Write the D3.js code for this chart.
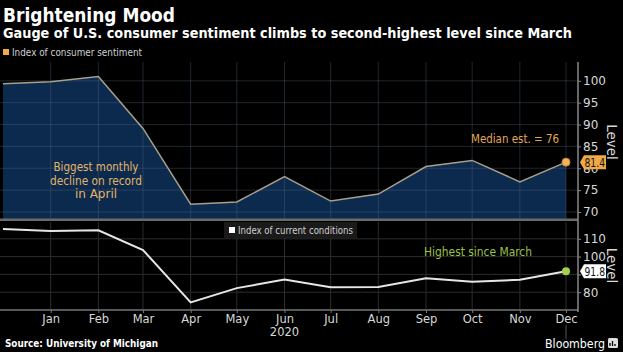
<!DOCTYPE html>
<html><head><meta charset="utf-8">
<script src="https://cdn.jsdelivr.net/npm/d3@7"></script>
<style>
html,body{margin:0;padding:0;background:#000;}
svg{display:block;}
text{font-family:"DejaVu Sans",sans-serif;}
</style></head>
<body>
<svg id="c" width="623" height="352"></svg>
<script>
const months = ["2019-12","2020-01","2020-02","2020-03","2020-04","2020-05","2020-06","2020-07","2020-08","2020-09","2020-10","2020-11","2020-12"];
const sentiment = [99.3,99.8,101.0,89.1,71.8,72.3,78.1,72.5,74.1,80.4,81.8,76.9,81.4];
const conditions = [115.5,114.4,114.8,103.7,74.3,82.3,87.1,82.8,82.9,87.8,85.9,87.0,91.8];
const topTicks = [70,75,80,85,90,95,100];
const botTicks = [80,90,100,110];
const monthLabels = ["Jan","Feb","Mar","Apr","May","Jun","Jul","Aug","Sep","Oct","Nov","Dec"];

const parse = d3.timeParse("%Y-%m");
const dates = months.map(parse);
const svg = d3.select("#c");
svg.append("rect").attr("width",623).attr("height",352).attr("fill","#000");

const x = d3.scaleTime().domain([dates[0], dates[12]]).range([3,566]);
const axisX = 578;
const yT = d3.scaleLinear().domain([68.4,104.3]).range([219,62]);
const yB = d3.scaleLinear().domain([70,120]).range([310,221]);

const grid = "#2c2c2c";
// title
svg.append("text").attr("x",3).attr("y",21.5).attr("fill","#fff").attr("font-weight","bold")
  .attr("font-size",19).attr("textLength",172).attr("lengthAdjust","spacingAndGlyphs").text("Brightening Mood");
svg.append("text").attr("x",3).attr("y",37.5).attr("fill","#fff").attr("font-weight","bold")
  .attr("font-size",13.5).attr("textLength",569).attr("lengthAdjust","spacingAndGlyphs")
  .text("Gauge of U.S. consumer sentiment climbs to second-highest level since March");
// legend top
svg.append("rect").attr("x",3).attr("y",49).attr("width",6).attr("height",6).attr("fill","#f0a848");
svg.append("text").attr("x",12).attr("y",56).attr("fill","#cfcfcf").attr("font-size",10.5)
  .attr("textLength",130).attr("lengthAdjust","spacingAndGlyphs").text("Index of consumer sentiment");

// top area
const area = d3.area().x((d,i)=>x(dates[i])).y0(yT(68.4)).y1(d=>yT(d));
svg.append("path").datum(sentiment).attr("d",area).attr("fill","#0c2a4e");
// grid top
const gT = svg.append("g");
gT.selectAll("line.h").data(topTicks).join("line").attr("x1",0).attr("x2",axisX)
  .attr("y1",d=>yT(d)).attr("y2",d=>yT(d)).attr("stroke","#5a6a80").attr("stroke-opacity",0.35).attr("stroke-width",1);
const monthTicks = dates.slice(1);
gT.selectAll("line.v").data(monthTicks).join("line").attr("x1",d=>x(d)).attr("x2",d=>x(d))
  .attr("y1",62).attr("y2",219).attr("stroke","#5a6a80").attr("stroke-opacity",0.35);
const line = d3.line().x((d,i)=>x(dates[i])).y(d=>yT(d));
svg.append("path").datum(sentiment).attr("d",line).attr("fill","none").attr("stroke","#a8a08c").attr("stroke-width",1.5);

// separator
svg.append("rect").attr("x",0).attr("y",218.5).attr("width",axisX).attr("height",2.5).attr("fill","#6a6a6a");

// bottom grid
const gB = svg.append("g");
gB.selectAll("line.h").data(botTicks).join("line").attr("x1",0).attr("x2",axisX)
  .attr("y1",d=>yB(d)).attr("y2",d=>yB(d)).attr("stroke",grid).attr("stroke-width",1);
gB.selectAll("line.v").data(monthTicks).join("line").attr("x1",d=>x(d)).attr("x2",d=>x(d))
  .attr("y1",222).attr("y2",310).attr("stroke",grid);
// bottom axis line
svg.append("line").attr("x1",0).attr("x2",axisX).attr("y1",310).attr("y2",310).attr("stroke","#777").attr("stroke-width",1.5);
// x ticks
const xAxis = d3.axisBottom(x).tickValues(monthTicks).tickFormat((d,i)=>monthLabels[i]).tickSize(3).tickPadding(2);
const gx = svg.append("g").attr("transform","translate(0,310)").call(xAxis);
gx.select(".domain").remove();
gx.selectAll(".tick line").attr("stroke","#777");
gx.selectAll(".tick text").attr("fill","#d8d8d8").attr("font-size",11.5).attr("font-family","DejaVu Sans");
svg.append("text").attr("x",x(dates[6])).attr("y",336).attr("text-anchor","middle").attr("fill","#d8d8d8").attr("font-size",11.5).text("2020");
svg.append("line").attr("x1",x(dates[12])).attr("x2",x(dates[12])).attr("y1",325).attr("y2",339).attr("stroke","#555");

// bottom line
const lineB = d3.line().x((d,i)=>x(dates[i])).y(d=>yB(d));
svg.append("path").datum(conditions).attr("d",lineB).attr("fill","none").attr("stroke","#e6e6e6").attr("stroke-width",2);

// bottom legend
svg.append("rect").attr("x",224).attr("y",222).attr("width",133).attr("height",16).attr("fill","#1a1a1a");
svg.append("rect").attr("x",229).attr("y",227).attr("width",6).attr("height",6).attr("fill","#fff");
svg.append("text").attr("x",238).attr("y",234).attr("fill","#cfcfcf").attr("font-size",10.5)
  .attr("textLength",115).attr("lengthAdjust","spacingAndGlyphs").text("Index of current conditions");

// right axes
svg.append("line").attr("x1",axisX).attr("x2",axisX).attr("y1",62).attr("y2",312).attr("stroke","#888").attr("stroke-width",1.5);
const ayT = d3.axisRight(yT).tickValues(topTicks).tickSize(3).tickPadding(2);
const gyT = svg.append("g").attr("transform",`translate(${axisX},0)`).call(ayT);
gyT.select(".domain").remove();
gyT.selectAll(".tick line").attr("stroke","#888");
gyT.selectAll(".tick text").attr("fill","#d8d8d8").attr("font-size",12).attr("font-family","DejaVu Sans");
const ayB = d3.axisRight(yB).tickValues(botTicks).tickSize(3).tickPadding(2)
  .tickFormat(d => d === 90 ? "" : d);
const gyB = svg.append("g").attr("transform",`translate(${axisX},0)`).call(ayB);
gyB.select(".domain").remove();
gyB.selectAll(".tick line").attr("stroke","#888");
gyB.selectAll(".tick text").attr("fill","#d8d8d8").attr("font-size",12).attr("font-family","DejaVu Sans");
svg.append("text").attr("transform",`translate(607,${yT(86)}) rotate(90)`).attr("text-anchor","middle")
  .attr("fill","#d8d8d8").attr("font-size",13.5).text("Level");
svg.append("text").attr("transform",`translate(607,${yB(95)}) rotate(90)`).attr("text-anchor","middle")
  .attr("fill","#d8d8d8").attr("font-size",13.5).text("Level");

// end markers and labels
function endLabel(yv, val, bg, fg){
  const cy = yv;
  svg.append("path").attr("d",`M580,${cy} L584,${cy-7} L606,${cy-7} L606,${cy+7} L584,${cy+7} Z`).attr("fill",bg);
  svg.append("text").attr("x",584.5).attr("y",cy+4.5).attr("fill",fg).attr("font-size",12)
    .attr("textLength",20.5).attr("lengthAdjust","spacingAndGlyphs").text(val);
}
svg.append("circle").attr("cx",x(dates[12])).attr("cy",yT(sentiment[12])).attr("r",4).attr("fill","#f2b45a").attr("stroke","#c88a30");
endLabel(yT(sentiment[12]), "81.4", "#f0a848", "#111");
svg.append("circle").attr("cx",x(dates[12])).attr("cy",yB(conditions[12])).attr("r",4).attr("fill","#a6d04a");
endLabel(yB(conditions[12]), "91.8", "#fff", "#111");

// annotations
[["Biggest monthly",85],["decline on record",92],["in April",null]].forEach((t,i)=>{
  const tx = svg.append("text").attr("x",96).attr("y",171+i*13.5).attr("text-anchor","middle")
    .attr("fill","#e2b468").attr("font-size",t[1] ? 13 : 12).text(t[0]);
  if (t[1]) tx.attr("textLength",t[1]).attr("lengthAdjust","spacingAndGlyphs");
});
svg.append("text").attr("x",559).attr("y",143).attr("text-anchor","end").attr("fill","#e2a858").attr("font-size",13)
  .attr("textLength",88).attr("lengthAdjust","spacingAndGlyphs").text("Median est. = 76");
svg.append("text").attr("x",478).attr("y",256).attr("text-anchor","middle").attr("fill","#9cc04a").attr("font-size",12.5)
  .attr("textLength",108).attr("lengthAdjust","spacingAndGlyphs").text("Highest since March");

// footer
svg.append("text").attr("x",5).attr("y",347).attr("fill","#fff").attr("font-weight","bold").attr("font-size",11)
  .attr("textLength",153).attr("lengthAdjust","spacingAndGlyphs").text("Source: University of Michigan");
svg.append("text").attr("x",605).attr("y",348).attr("text-anchor","end").attr("fill","#fff").attr("font-size",13)
  .attr("textLength",60).attr("lengthAdjust","spacingAndGlyphs").text("Bloomberg");
svg.append("rect").attr("x",608).attr("y",338).attr("width",10).attr("height",10).attr("rx",1.5).attr("fill","#ddd");
svg.append("path").attr("d","M610,346 L610,343 M612.5,346 L612.5,341 M615,346 L615,344").attr("stroke","#000").attr("stroke-width",1.3);
</script>
</body></html>
